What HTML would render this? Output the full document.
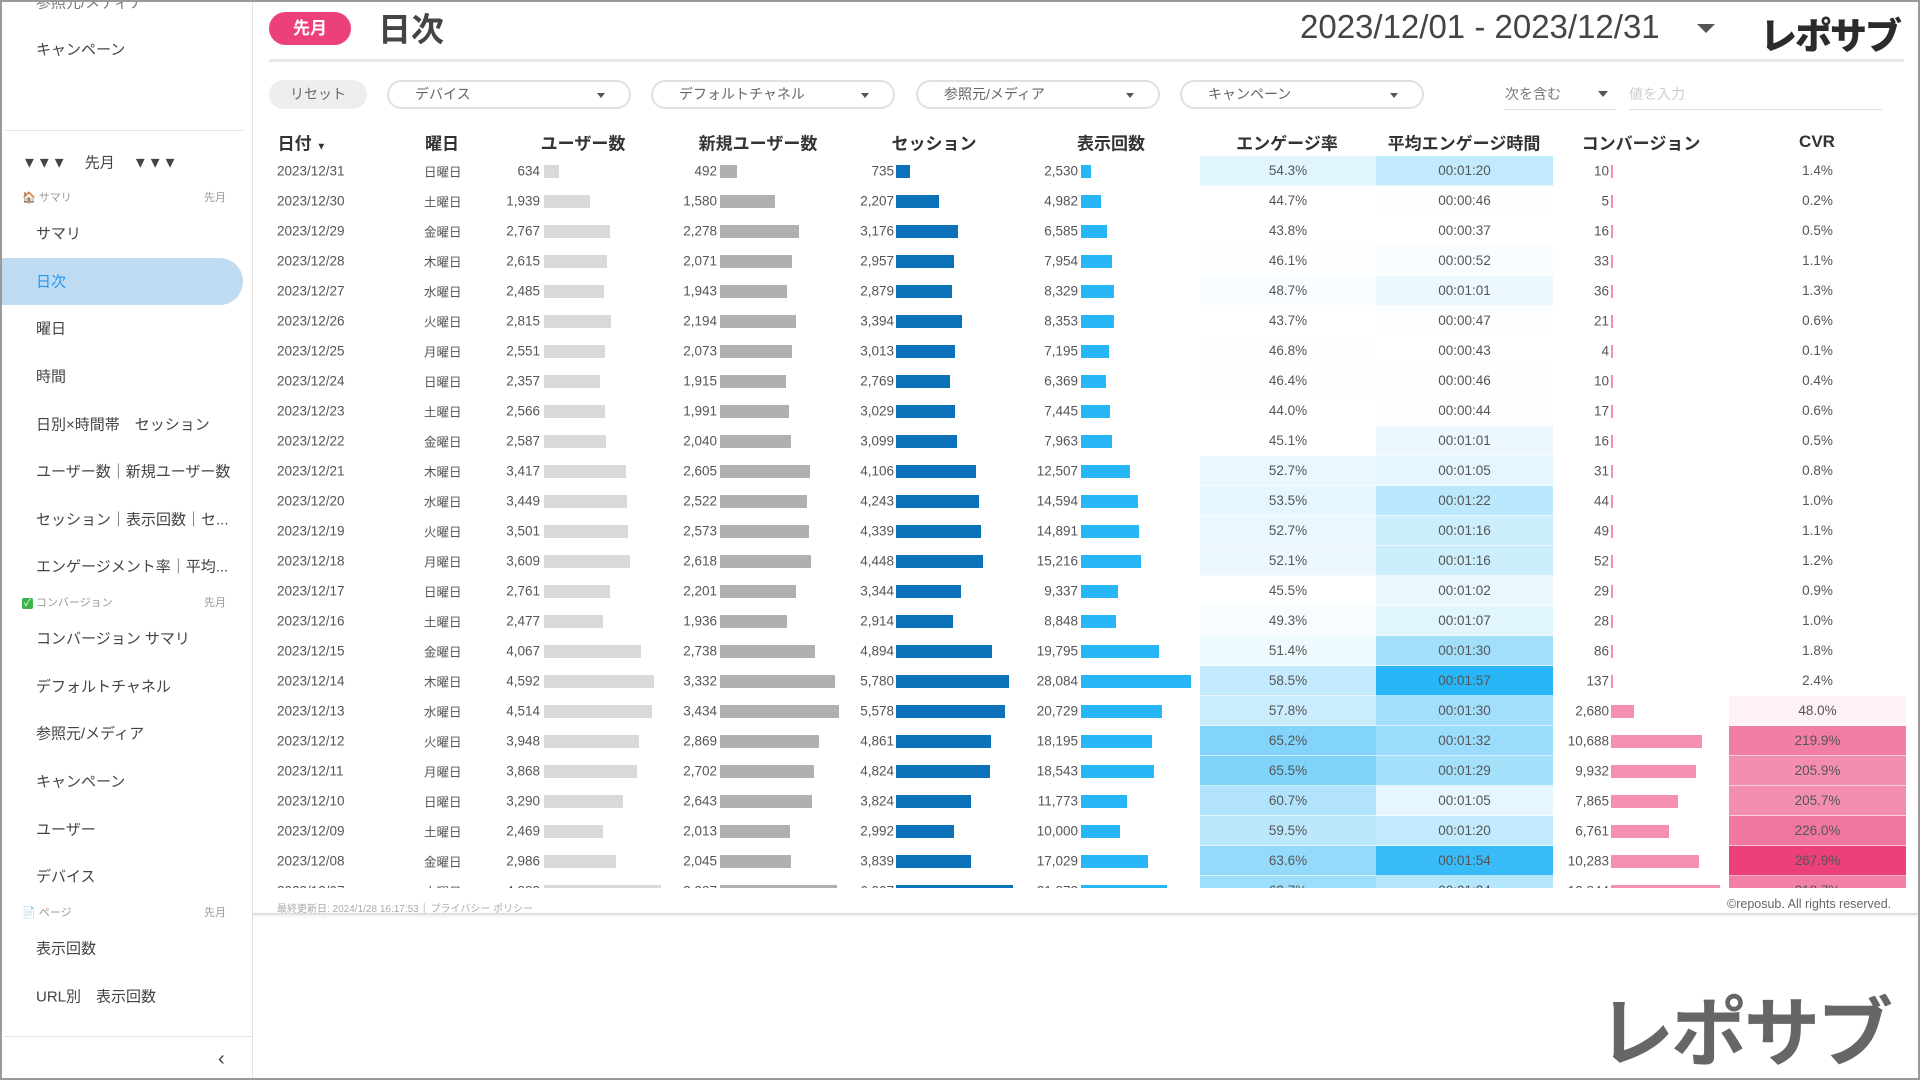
<!DOCTYPE html>
<html><head><meta charset="utf-8">
<style>
*{margin:0;padding:0;box-sizing:border-box}
body{width:1920px;height:1080px;position:relative;overflow:hidden;background:#fff;font-family:"Liberation Sans","Noto Sans CJK JP",sans-serif;color:#555}
.a{position:absolute;white-space:nowrap}
#frame{position:absolute;left:0;top:0;width:1920px;height:1080px;border:2px solid #9a9a9a;pointer-events:none}
.si{position:absolute;left:36px;font-size:15px;color:#444;transform:translateY(-50%)}
.sh{position:absolute;font-size:11px;color:#999;transform:translateY(-50%)}
.pill{position:absolute;top:80px;height:29px;border:2px solid #e0e0e0;border-radius:15px;font-size:14px;color:#666;line-height:25px;padding-left:26px}
.pill .tri{position:absolute;right:24px;top:11px;width:0;height:0;border-left:4px solid transparent;border-right:4px solid transparent;border-top:5px solid #555}
.th{position:absolute;top:142px;transform:translate(-50%,-50%);font-size:17px;font-weight:bold;color:#333}
.c{position:absolute;font-size:13.5px;color:#555;transform:translateY(-50%)}
.bar{position:absolute;height:13px}
.cell{position:absolute;height:30px;text-align:center;line-height:30px;font-size:13.5px;color:#555;border-bottom:1px solid rgba(255,255,255,.6)}
</style></head><body>
<div class="a" style="left:252px;top:0;width:1px;height:1080px;background:#e3e3e3"></div>
<div class="si" style="top:2px;color:#777">参照元/メディア</div>
<div class="si" style="top:49px">キャンペーン</div>
<div class="a" style="left:4px;top:130px;width:240px;height:1px;background:#e6e6e6"></div>
<div class="a" style="left:22px;top:162px;transform:translateY(-50%);font-size:15px;color:#444;font-weight:bold">▼▼▼ <span style="font-weight:normal;margin:0 14px">先月</span> ▼▼▼</div>
<div class="sh" style="left:22px;top:197px">🏠 サマリ</div><div class="sh" style="left:204px;top:197px">先月</div>
<div class="si" style="top:233px">サマリ</div>
<div class="a" style="left:0;top:258px;width:243px;height:47px;background:#bedbf2;border-radius:0 24px 24px 0"></div>
<div class="si" style="top:281px;color:#2196f3">日次</div>
<div class="si" style="top:328px">曜日</div>
<div class="si" style="top:376px">時間</div>
<div class="si" style="top:424px">日別×時間帯　セッション</div>
<div class="si" style="top:471px">ユーザー数｜新規ユーザー数</div>
<div class="si" style="top:519px">セッション｜表示回数｜セ...</div>
<div class="si" style="top:566px">エンゲージメント率｜平均...</div>
<div class="sh" style="left:22px;top:602px"><span style="color:#fff;background:#3cb44b;border-radius:2px;padding:0 2px;font-size:10px">✓</span> コンバージョン</div><div class="sh" style="left:204px;top:602px">先月</div>
<div class="si" style="top:638px">コンバージョン サマリ</div>
<div class="si" style="top:686px">デフォルトチャネル</div>
<div class="si" style="top:733px">参照元/メディア</div>
<div class="si" style="top:781px">キャンペーン</div>
<div class="si" style="top:829px">ユーザー</div>
<div class="si" style="top:876px">デバイス</div>
<div class="sh" style="left:22px;top:912px">📄 ページ</div><div class="sh" style="left:204px;top:912px">先月</div>
<div class="si" style="top:948px">表示回数</div>
<div class="si" style="top:996px">URL別　表示回数</div>
<div class="a" style="left:4px;top:1036px;width:248px;height:1px;background:#e3e3e3"></div>
<div class="a" style="left:218px;top:1048px;font-size:20px;color:#444">‹</div>

<div class="a" style="left:269px;top:12px;width:82px;height:33px;border-radius:17px;background:#ec407a;color:#fff;font-size:17px;font-weight:bold;text-align:center;line-height:33px">先月</div>
<div class="a" style="left:378px;top:3px;font-size:33px;color:#444;font-weight:bold">日次</div>
<div class="a" style="left:1300px;top:8px;font-size:33px;color:#444">2023/12/01 - 2023/12/31</div>
<div class="a" style="left:1697px;top:24px;width:0;height:0;border-left:9px solid transparent;border-right:9px solid transparent;border-top:9px solid #555"></div>
<div class="a" style="left:1760px;top:6px;font-size:37px;font-weight:900;color:#2b2b2b;letter-spacing:-2px">レポサブ</div>
<div class="a" style="left:269px;top:59px;width:1635px;height:3px;background:#e8e8e8"></div>

<div class="a" style="left:269px;top:80px;width:98px;height:29px;border-radius:15px;background:#eee;font-size:14px;color:#666;text-align:center;line-height:29px">リセット</div>
<div class="pill" style="left:387px;width:244px">デバイス<div class="tri"></div></div>
<div class="pill" style="left:651px;width:244px">デフォルトチャネル<div class="tri"></div></div>
<div class="pill" style="left:916px;width:244px">参照元/メディア<div class="tri"></div></div>
<div class="pill" style="left:1180px;width:244px">キャンペーン<div class="tri"></div></div>
<div class="a" style="left:1505px;top:84px;font-size:14px;color:#777">次を含む</div>
<div class="a" style="left:1598px;top:91px;width:0;height:0;border-left:5px solid transparent;border-right:5px solid transparent;border-top:6px solid #555"></div>
<div class="a" style="left:1504px;top:109px;width:112px;height:1px;background:#ddd"></div>
<div class="a" style="left:1629px;top:84px;font-size:14px;color:#ccc">値を入力</div>
<div class="a" style="left:1629px;top:109px;width:253px;height:1px;background:#ddd"></div>

<div class="th" style="left:302px">日付 <span style="font-size:10px">▼</span></div>
<div class="th" style="left:442px">曜日</div>
<div class="th" style="left:583px">ユーザー数</div>
<div class="th" style="left:758px">新規ユーザー数</div>
<div class="th" style="left:934px">セッション</div>
<div class="th" style="left:1111px">表示回数</div>
<div class="th" style="left:1287px">エンゲージ率</div>
<div class="th" style="left:1464px">平均エンゲージ時間</div>
<div class="th" style="left:1641px">コンバージョン</div>
<div class="th" style="left:1817px">CVR</div>

<div id="tbl" class="a" style="left:0;top:0;width:1920px;height:888px;overflow:hidden"></div>

<div class="a" style="left:277px;top:900px;font-size:10px;color:#aaa">最終更新日: 2024/1/28 16:17:53 │ <span style="text-decoration:underline">プライバシー ポリシー</span></div>
<div class="a" style="left:1727px;top:897px;font-size:12.5px;color:#666">©reposub. All rights reserved.</div>
<div class="a" style="left:253px;top:913px;width:1665px;height:2px;background:#e0e0e0;box-shadow:0 1px 3px rgba(0,0,0,.1)"></div>
<div class="a" style="left:1598px;top:972px;font-size:76px;font-weight:bold;color:#666;letter-spacing:-3px">レポサブ</div>
<div id="frame"></div>

<script>
const D=[
["31","日",634,492,735,2530,54.3,"00:01:20",10,1.4],
["30","土",1939,1580,2207,4982,44.7,"00:00:46",5,0.2],
["29","金",2767,2278,3176,6585,43.8,"00:00:37",16,0.5],
["28","木",2615,2071,2957,7954,46.1,"00:00:52",33,1.1],
["27","水",2485,1943,2879,8329,48.7,"00:01:01",36,1.3],
["26","火",2815,2194,3394,8353,43.7,"00:00:47",21,0.6],
["25","月",2551,2073,3013,7195,46.8,"00:00:43",4,0.1],
["24","日",2357,1915,2769,6369,46.4,"00:00:46",10,0.4],
["23","土",2566,1991,3029,7445,44.0,"00:00:44",17,0.6],
["22","金",2587,2040,3099,7963,45.1,"00:01:01",16,0.5],
["21","木",3417,2605,4106,12507,52.7,"00:01:05",31,0.8],
["20","水",3449,2522,4243,14594,53.5,"00:01:22",44,1.0],
["19","火",3501,2573,4339,14891,52.7,"00:01:16",49,1.1],
["18","月",3609,2618,4448,15216,52.1,"00:01:16",52,1.2],
["17","日",2761,2201,3344,9337,45.5,"00:01:02",29,0.9],
["16","土",2477,1936,2914,8848,49.3,"00:01:07",28,1.0],
["15","金",4067,2738,4894,19795,51.4,"00:01:30",86,1.8],
["14","木",4592,3332,5780,28084,58.5,"00:01:57",137,2.4],
["13","水",4514,3434,5578,20729,57.8,"00:01:30",2680,48.0],
["12","火",3948,2869,4861,18195,65.2,"00:01:32",10688,219.9],
["11","月",3868,2702,4824,18543,65.5,"00:01:29",9932,205.9],
["10","日",3290,2643,3824,11773,60.7,"00:01:05",7865,205.7],
["09","土",2469,2013,2992,10000,59.5,"00:01:20",6761,226.0],
["08","金",2986,2045,3839,17029,63.6,"00:01:54",10283,267.9],
["07","木",4883,3387,6007,21873,62.7,"00:01:24",12844,218.7]];
const f=n=>n.toLocaleString('en-US');
function mix(c,t){t=Math.max(0,Math.min(1,t));return `rgb(${Math.round(255+(c[0]-255)*t)},${Math.round(255+(c[1]-255)*t)},${Math.round(255+(c[2]-255)*t)})`}
const B=[41,182,246],P=[236,64,122];
let h='';
D.forEach((r,i)=>{
 const top=156+30*i, cy=top+15;
 h+=`<div class="c" style="left:277px;top:${cy}px">2023/12/${r[0]}</div>`;
 h+=`<div class="c" style="left:424px;top:${cy}px;font-size:12.5px">${r[1]}曜日</div>`;
 const cols=[[540,544,110/4592,'#d9d9d9',2],[717,720,119/3434,'#b0b0b0',3],[894,896,113/5780,'#0b72b9',4],[1078,1081,110/28084,'#29b6f6',5],[1609,1611,91/10688,'#f48fb1',8]];
 cols.forEach(c=>{const v=r[c[4]];
  h+=`<div class="c" style="right:${1920-c[0]}px;top:${cy}px">${f(v)}</div>`;
  h+=`<div class="bar" style="left:${c[1]}px;top:${cy-6}px;width:${Math.max(1.5,v*c[2])}px;background:${c[3]}"></div>`;});
 const te=(r[6]-43.7)/21.8;
 h+=`<div class="cell" style="left:1200px;top:${top}px;width:176px;background:${mix(B,te*te*0.6)}">${r[6].toFixed(1)}%</div>`;
 const p=r[7].split(':'),s=+p[1]*60+ +p[2],tt=(s-37)/80;
 h+=`<div class="cell" style="left:1376px;top:${top}px;width:177px;background:${mix(B,tt*tt)}">${r[7]}</div>`;
 const tc=r[9]/267.9;
 h+=`<div class="cell" style="left:1729px;top:${top}px;width:177px;background:${mix(P,Math.max(tc*tc,r[9]>10?0.07:0))}">${r[9].toFixed(1)}%</div>`;
});
document.getElementById('tbl').innerHTML=h;
</script>
</body></html>
